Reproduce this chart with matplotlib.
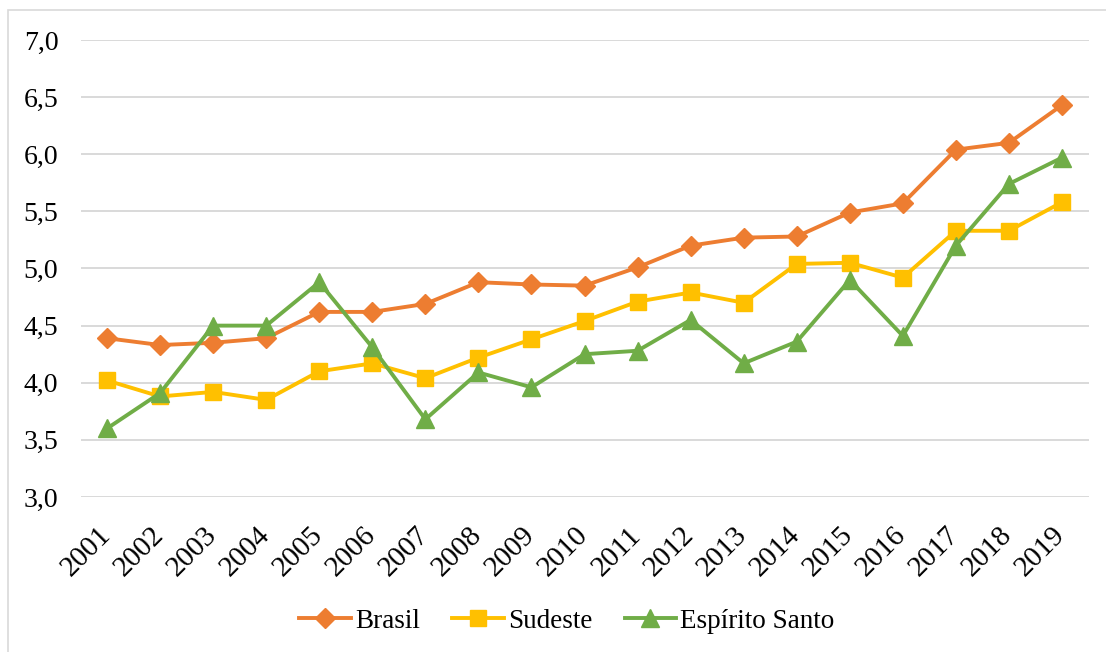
import matplotlib
matplotlib.use("Agg")
import matplotlib.pyplot as plt
import matplotlib.transforms as mtransforms
from matplotlib.patches import Rectangle
from matplotlib.ticker import FuncFormatter

years = [str(y) for y in range(2001, 2020)]
brasil = [4.39, 4.33, 4.35, 4.39, 4.62, 4.62, 4.69, 4.88, 4.86, 4.85,
          5.01, 5.20, 5.27, 5.28, 5.49, 5.57, 6.04, 6.10, 6.43]
sudeste = [4.02, 3.88, 3.92, 3.85, 4.10, 4.17, 4.04, 4.22, 4.38, 4.54,
           4.71, 4.79, 4.70, 5.04, 5.05, 4.92, 5.33, 5.33, 5.58]
espirito_santo = [3.60, 3.91, 4.50, 4.50, 4.88, 4.31, 3.68, 4.09, 3.96, 4.25,
                  4.28, 4.55, 4.17, 4.36, 4.90, 4.41, 5.20, 5.74, 5.97]

plt.rcParams['font.family'] = ['Liberation Serif', 'DejaVu Serif']

fig = plt.figure(figsize=(11.06, 6.52), dpi=100)
ax = fig.add_axes([0.0728, 0.2377, 0.9114, 0.701])

x = list(range(len(years)))
ax.plot(x, brasil, color='#ED7D31', lw=2.8, marker='D', ms=10, label='Brasil')
ax.plot(x, sudeste, color='#FFC000', lw=2.8, marker='s', ms=12, label='Sudeste')
ax.plot(x, espirito_santo, color='#70AD47', lw=2.8, marker='^', ms=13,
        label='Espírito Santo')

ax.set_xlim(-0.5, len(years) - 0.5)
ax.set_ylim(3.0, 7.0)
ax.set_yticks([3.0 + 0.5 * i for i in range(9)])
ax.yaxis.set_major_formatter(FuncFormatter(lambda v, p: f"{v:.1f}".replace('.', ',')))
ax.set_xticks(x)
ax.set_xticklabels(years, rotation=45, ha='right', rotation_mode='anchor',
                   fontsize=21)
ax.tick_params(axis='y', length=0, labelsize=20, pad=16)
ax.tick_params(axis='x', length=0, pad=18)
shift = mtransforms.ScaledTranslation(-7 / 72, 0, fig.dpi_scale_trans)
for lbl in ax.get_xticklabels():
    lbl.set_transform(lbl.get_transform() + shift)
ax.grid(axis='y', color='#D9D9D9', lw=1.4)
ax.set_axisbelow(True)
for s in ax.spines.values():
    s.set_visible(False)

fig.legend(loc='center', bbox_to_anchor=(567 / 1106, 1 - 621 / 652), ncol=3,
           frameon=False, fontsize=19.5, handlelength=1.9, columnspacing=1.2,
           handletextpad=0.15)

fig.patches.append(Rectangle((8 / 1106, -0.01), 1.0, 1 - 10 / 652 + 0.01,
                             transform=fig.transFigure, fill=False,
                             edgecolor='#D9D9D9', lw=1.2))

fig.savefig('out.png', dpi=100)
